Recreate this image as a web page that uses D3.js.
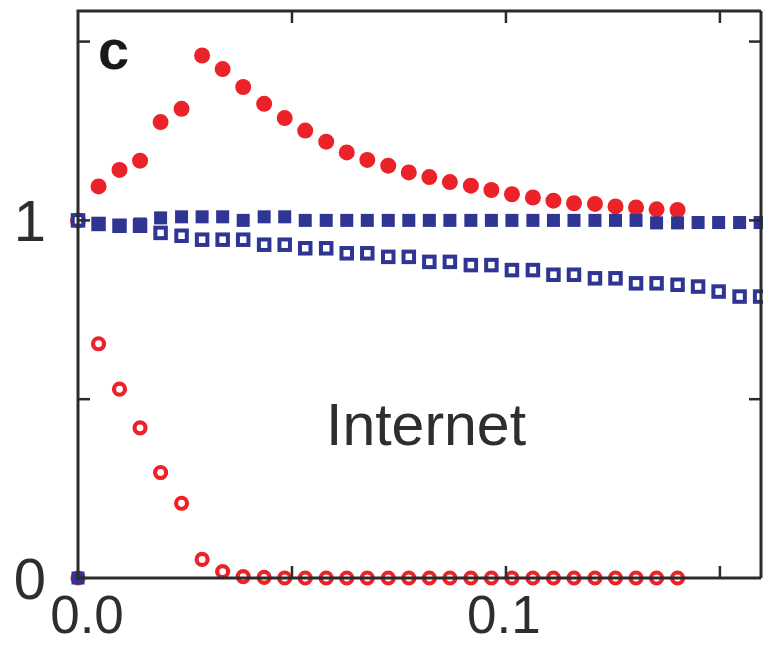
<!DOCTYPE html>
<html>
<head>
<meta charset="utf-8">
<script src="https://cdn.jsdelivr.net/npm/d3@7"></script>
<style>
  html, body { margin: 0; padding: 0; background: #fff; }
  svg { display: block; }
</style>
</head>
<body>
<div id="chart"></div>
<script>
// ---- data ----
const xValues = [0, 0.0048, 0.0097, 0.0145, 0.0193, 0.0242, 0.0290, 0.0338, 0.0386, 0.0435,
  0.0483, 0.0531, 0.0580, 0.0628, 0.0676, 0.0725, 0.0773, 0.0821, 0.0869, 0.0918,
  0.0966, 0.1014, 0.1063, 0.1111, 0.1159, 0.1208, 0.1256, 0.1304, 0.1352, 0.1401,
  0.1449, 0.1497, 0.1546, 0.1594];

const redFilled = [1.0, 1.095, 1.141, 1.167, 1.275, 1.312, 1.461, 1.423, 1.373, 1.326,
  1.286, 1.251, 1.220, 1.190, 1.169, 1.153, 1.134, 1.121, 1.107, 1.097,
  1.085, 1.073, 1.064, 1.055, 1.048, 1.046, 1.039, 1.036, 1.031, 1.029];

const redOpen = [0, 0.655, 0.528, 0.420, 0.295, 0.209, 0.052, 0.018, 0.004, 0.002,
  0, 0, 0, 0, 0, 0, 0, 0, 0, 0,
  0, 0, 0, 0, 0, 0, 0, 0, 0, 0];

const blueFilled = [0, 0.990, 0.985, 0.990, 1.007, 1.010, 1.010, 1.010, 1.000, 1.010,
  1.010, 1.000, 1.000, 1.000, 1.000, 1.000, 1.000, 1.000, 1.000, 1.000,
  1.000, 1.000, 1.000, 1.000, 1.000, 1.000, 1.000, 1.000, 0.993, 0.993,
  0.994, 0.994, 0.994, 0.994];

const blueOpen = [1.0, 0.990, 0.985, 0.985, 0.965, 0.957, 0.946, 0.946, 0.946, 0.932,
  0.932, 0.922, 0.922, 0.908, 0.908, 0.898, 0.898, 0.884, 0.884, 0.875,
  0.875, 0.861, 0.861, 0.848, 0.848, 0.838, 0.838, 0.824, 0.824, 0.820,
  0.815, 0.801, 0.787, 0.787];

const xTickLabels = [{v: 0, t: "0.0"}, {v: 0.1, t: "0.1"}];
const yTickLabels = [{v: 0, t: "0"}, {v: 1, t: "1"}];
const xMinorTicks = [0.05, 0.1, 0.15];
const yMinorTicks = [0.5, 1, 1.5];
const panelLabel = "c";
const networkLabel = "Internet";

// ---- layout ----
const W = 763, H = 645;
const pLeft = 78, pRight = 761, pTop = 11, pBottom = 578;

const x = d3.scaleLinear().domain([0, 0.1596]).range([pLeft, pRight]);
const y = d3.scaleLinear().domain([0, 1.5855]).range([pBottom, pTop]);

const RED = "#ec2229", BLUE = "#2e3592", INK = "#2b2b2b", TXT = "#2e2e2e";

const svg = d3.select("#chart").append("svg")
  .attr("width", W).attr("height", H);

// ---- markers (red first, then blue open, then blue filled) ----
const zip = (arr) => arr.map((v, i) => ({x: xValues[i], y: v}));

svg.append("g").selectAll("circle").data(zip(redFilled)).join("circle")
  .attr("cx", d => x(d.x)).attr("cy", d => y(d.y)).attr("r", 8)
  .attr("fill", RED);

svg.append("g").selectAll("circle").data(zip(redOpen)).join("circle")
  .attr("cx", d => x(d.x)).attr("cy", d => y(d.y)).attr("r", 5.5)
  .attr("fill", "#fff").attr("stroke", RED).attr("stroke-width", 4.2);

const sqO = 10.5;
svg.append("g").selectAll("rect").data(zip(blueOpen)).join("rect")
  .attr("x", d => x(d.x) - sqO / 2).attr("y", d => y(d.y) - sqO / 2)
  .attr("width", sqO).attr("height", sqO)
  .attr("fill", "#fff").attr("stroke", BLUE).attr("stroke-width", 4);

const sqF = 13;
svg.append("g").selectAll("rect").data(zip(blueFilled)).join("rect")
  .attr("x", d => x(d.x) - sqF / 2).attr("y", d => y(d.y) - sqF / 2)
  .attr("width", sqF).attr("height", sqF)
  .attr("fill", BLUE);

// ---- frame ----
svg.append("path")
  .attr("d", `M${pRight},${pTop}H${pLeft}V${pBottom}H${pRight}`)
  .attr("fill", "none").attr("stroke", INK).attr("stroke-width", 3);
svg.append("line")
  .attr("x1", pRight).attr("x2", pRight).attr("y1", pTop).attr("y2", pBottom)
  .attr("stroke", INK).attr("stroke-width", 3);

// inward ticks
const tickLen = 12;
const tg = svg.append("g").attr("stroke", INK).attr("stroke-width", 2.5);
xMinorTicks.forEach(v => {
  tg.append("line").attr("x1", x(v)).attr("x2", x(v)).attr("y1", pBottom).attr("y2", pBottom - tickLen);
  tg.append("line").attr("x1", x(v)).attr("x2", x(v)).attr("y1", pTop).attr("y2", pTop + tickLen);
});
yMinorTicks.forEach(v => {
  tg.append("line").attr("x1", pLeft).attr("x2", pLeft + tickLen).attr("y1", y(v)).attr("y2", y(v));
  tg.append("line").attr("x1", pRight).attr("x2", pRight - tickLen).attr("y1", y(v)).attr("y2", y(v));
});

// ---- tick labels ----
const fontFam = "'Liberation Sans', Arial, Helvetica, sans-serif";
svg.append("g").selectAll("text").data(xTickLabels).join("text")
  .attr("x", d => x(d.v) + (d.v === 0 ? 9 : -2))
  .attr("y", 633)
  .attr("text-anchor", "middle")
  .attr("font-family", fontFam).attr("font-size", 53)
  .attr("fill", TXT)
  .text(d => d.t);

svg.append("g").selectAll("text").data(yTickLabels).join("text")
  .attr("x", 46)
  .attr("y", d => y(d.v))
  .attr("dy", "0.36em")
  .attr("text-anchor", "end")
  .attr("font-family", fontFam).attr("font-size", 58)
  .attr("fill", TXT)
  .text(d => d.t);

// ---- annotations ----
svg.append("text")
  .attr("x", 98).attr("y", 69)
  .attr("font-family", fontFam).attr("font-size", 56).attr("font-weight", "bold")
  .attr("fill", "#1a1a1a")
  .text(panelLabel);

svg.append("text")
  .attr("x", 326).attr("y", 445)
  .attr("font-family", fontFam).attr("font-size", 59)
  .attr("fill", TXT)
  .text(networkLabel);
</script>
</body>
</html>
